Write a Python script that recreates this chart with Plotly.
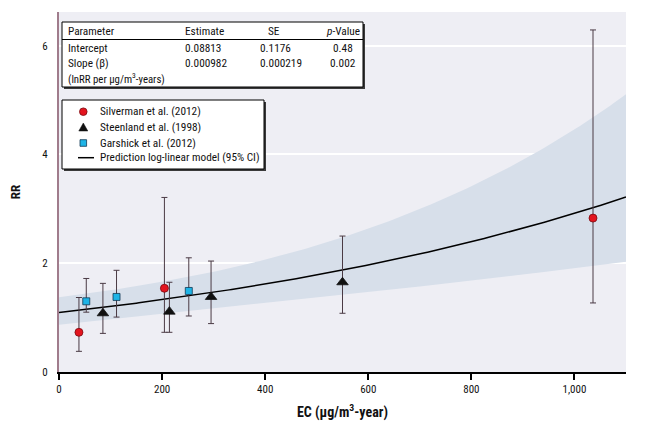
import numpy as np
import plotly.graph_objects as go

# ---------------- data ----------------
silverman_ec = [38.7, 204.5, 1036]
silverman_rr = [0.73, 1.54, 2.83]
silverman_lo = [0.38, 0.73, 1.27]
silverman_hi = [1.37, 3.21, 6.29]

steenland_ec = [85.2, 214.2, 295, 550]
steenland_rr = [1.08, 1.11, 1.38, 1.65]
steenland_lo = [0.71, 0.73, 0.89, 1.08]
steenland_hi = [1.63, 1.65, 2.04, 2.50]

garshick_ec = [52.9, 111.6, 251.8]
garshick_rr = [1.30, 1.38, 1.49]
garshick_lo = [1.10, 1.01, 1.03]
garshick_hi = [1.72, 1.87, 2.10]

# model parameters (from the table in the chart)
intercept, intercept_se = 0.08813, 0.1176
slope, slope_se = 0.000982, 0.000219
cov_ab = -7.4e-6  # covariance estimate read from band width

x_ticks = [0, 200, 400, 600, 800, 1000]
y_ticks = [0, 2, 4, 6]

table_header = ["Parameter", "Estimate", "SE", "<i>p</i>-Value"]
table_rows = [
    ["Intercept", "0.08813", "0.1176", "0.48"],
    ["Slope (β)", "0.000982", "0.000219", "0.002"],
    ["(lnRR per µg/m<sup>3</sup>-years)", "", "", ""],
]
legend_labels = ["Silverman et al. (2012)", "Steenland et al. (1998)",
                 "Garshick et al. (2012)", "Prediction log-linear model (95% CI)"]

# ---------------- model curve ----------------
ec_grid = np.linspace(0, 1100, 221)
log_fit = intercept + slope * ec_grid
log_se = np.sqrt(intercept_se**2 + (ec_grid * slope_se)**2 + 2 * ec_grid * cov_ab)
fit = np.exp(log_fit)
upper = np.exp(log_fit + 1.96 * log_se)
lower = np.exp(log_fit - 1.96 * log_se)

# ---------------- layout geometry ----------------
# page body adds an 8px offset; geometry below is in screen pixels
OFF = 8
W, H = 642, 421
L, R, T, B = 51, 24, 4, 57
PW, PH = W - L - R, H - T - B

def px(xs):
    return (xs - OFF - L) / PW

def py(ys):
    return (H - B - (ys - OFF)) / PH

FONT = "Roboto Condensed, Liberation Sans Narrow, Arial Narrow, DejaVu Sans Condensed, sans-serif"
BAR = "#4a3a44"
TS = 11.3

fig = go.Figure()

# CI band
fig.add_trace(go.Scatter(x=ec_grid, y=upper, mode="lines", line=dict(width=0),
                         hoverinfo="skip", showlegend=False))
fig.add_trace(go.Scatter(x=ec_grid, y=lower, mode="lines", line=dict(width=0),
                         fill="tonexty", fillcolor="#d7dfea",
                         hoverinfo="skip", showlegend=False))
# prediction line
fig.add_trace(go.Scatter(x=ec_grid, y=fit, mode="lines",
                         line=dict(color="black", width=1.5),
                         name=legend_labels[3], showlegend=False))

def add_points(xs, ys, lo, hi, symbol, color, size, name, lcolor):
    fig.add_trace(go.Scatter(
        x=xs, y=ys, mode="markers", name=name, showlegend=False,
        marker=dict(symbol=symbol, color=color, size=size,
                    line=dict(color=lcolor, width=0.8)),
        error_y=dict(type="data", symmetric=False,
                     array=[h - v for h, v in zip(hi, ys)],
                     arrayminus=[v - l for v, l in zip(ys, lo)],
                     color=BAR, thickness=1, width=3),
    ))

add_points(silverman_ec, silverman_rr, silverman_lo, silverman_hi,
           "circle", "#e3141e", 8, legend_labels[0], "#7a0a10")
add_points(steenland_ec, steenland_rr, steenland_lo, steenland_hi,
           "triangle-up", "#111111", 10, legend_labels[1], "#111111")
add_points(garshick_ec, garshick_rr, garshick_lo, garshick_hi,
           "square", "#1eb4e6", 7, legend_labels[2], "#123a55")

shapes = []
annotations = []

def box(x0, y0, x1, y1):
    shapes.append(dict(type="rect", xref="paper", yref="paper",
                       x0=px(x0 + 2), x1=px(x1 + 2), y0=py(y1 + 2), y1=py(y0 + 2),
                       fillcolor="#3a3a3a", line=dict(width=0), layer="above"))
    shapes.append(dict(type="rect", xref="paper", yref="paper",
                       x0=px(x0), x1=px(x1), y0=py(y1), y1=py(y0),
                       fillcolor="white", line=dict(color="black", width=1), layer="above"))

def text(x, y, s, anchor="left", size=TS):
    annotations.append(dict(xref="paper", yref="paper", x=px(x), y=py(y), text=s,
                            showarrow=False, xanchor=anchor, yanchor="middle",
                            font=dict(family=FONT, size=size, color="#111111")))

# ---- parameter table ----
box(62, 22, 363, 87)
shapes.append(dict(type="line", xref="paper", yref="paper",
                   x0=px(62), x1=px(363), y0=py(39.5), y1=py(39.5),
                   line=dict(color="black", width=1), layer="above"))
col_x = [66, 183, 274, 343]
col_anchor_head = ["left", "left", "center", "center"]
for s, x, a in zip(table_header, col_x, col_anchor_head):
    text(x, 31, s, a)
row_y = [48.5, 63.5, 78.5]
val_x = [66, 183, 258, 343]
val_anchor = ["left", "left", "left", "center"]
for r, yv in zip(table_rows, row_y):
    for s, x, a in zip(r, val_x, val_anchor):
        if s:
            text(x, yv, s, a, size=(10.8 if s.startswith("(") else TS))

# ---- legend ----
box(62, 100, 264, 169)
leg_y = [111.7, 127.5, 143, 157.7]
mx = 83.3
shapes.append(dict(type="circle", xref="paper", yref="paper",
                   x0=px(mx - 3.8), x1=px(mx + 3.8), y0=py(leg_y[0] + 3.8), y1=py(leg_y[0] - 3.8),
                   fillcolor="#e3141e", line=dict(color="#7a0a10", width=0.8), layer="above"))
ty = leg_y[1]
shapes.append(dict(type="path", xref="paper", yref="paper",
                   path=f"M {px(mx-4.5)} {py(ty+3.5)} L {px(mx+4.5)} {py(ty+3.5)} L {px(mx)} {py(ty-4.5)} Z",
                   fillcolor="#111111", line=dict(color="#111111", width=0.5), layer="above"))
shapes.append(dict(type="rect", xref="paper", yref="paper",
                   x0=px(mx - 3.3), x1=px(mx + 3.3), y0=py(leg_y[2] + 3.3), y1=py(leg_y[2] - 3.3),
                   fillcolor="#1eb4e6", line=dict(color="#123a55", width=0.8), layer="above"))
shapes.append(dict(type="line", xref="paper", yref="paper",
                   x0=px(78), x1=px(94), y0=py(leg_y[3]), y1=py(leg_y[3]),
                   line=dict(color="black", width=1.5), layer="above"))
for s, yv in zip(legend_labels, leg_y):
    text(98, yv, s, "left")

fig.update_layout(
    width=W, height=H,
    margin=dict(l=L, r=R, t=T, b=B, autoexpand=False),
    paper_bgcolor="white", plot_bgcolor="#eeeef4",
    showlegend=False,
    shapes=shapes, annotations=annotations,
    font=dict(family=FONT, size=11, color="#111111"),
)
fig.update_xaxes(
    range=[0, 1100], tickvals=x_ticks, tickformat=",d",
    showgrid=False, zeroline=False,
    showline=True, linecolor="black", linewidth=2,
    ticks="outside", ticklen=6, tickwidth=2, tickcolor="black",
    tickfont=dict(family=FONT, size=11, color="#111111"),
    title=dict(text="<b>EC (µg/m<sup>3</sup>-year)</b>", standoff=12,
               font=dict(family=FONT, size=14, color="#111111")),
)
fig.update_yaxes(
    range=[0, 6.62], tickvals=y_ticks,
    showgrid=True, gridcolor="white", gridwidth=1.5, zeroline=False,
    showline=True, linecolor="#a07c8c", linewidth=2,
    ticks="", ticklabelstandoff=7,
    tickfont=dict(family=FONT, size=11, color="#111111"),
    title=dict(text="<b>RR</b>", standoff=22,
               font=dict(family=FONT, size=13, color="#111111")),
)

fig.write_html("out.html")
